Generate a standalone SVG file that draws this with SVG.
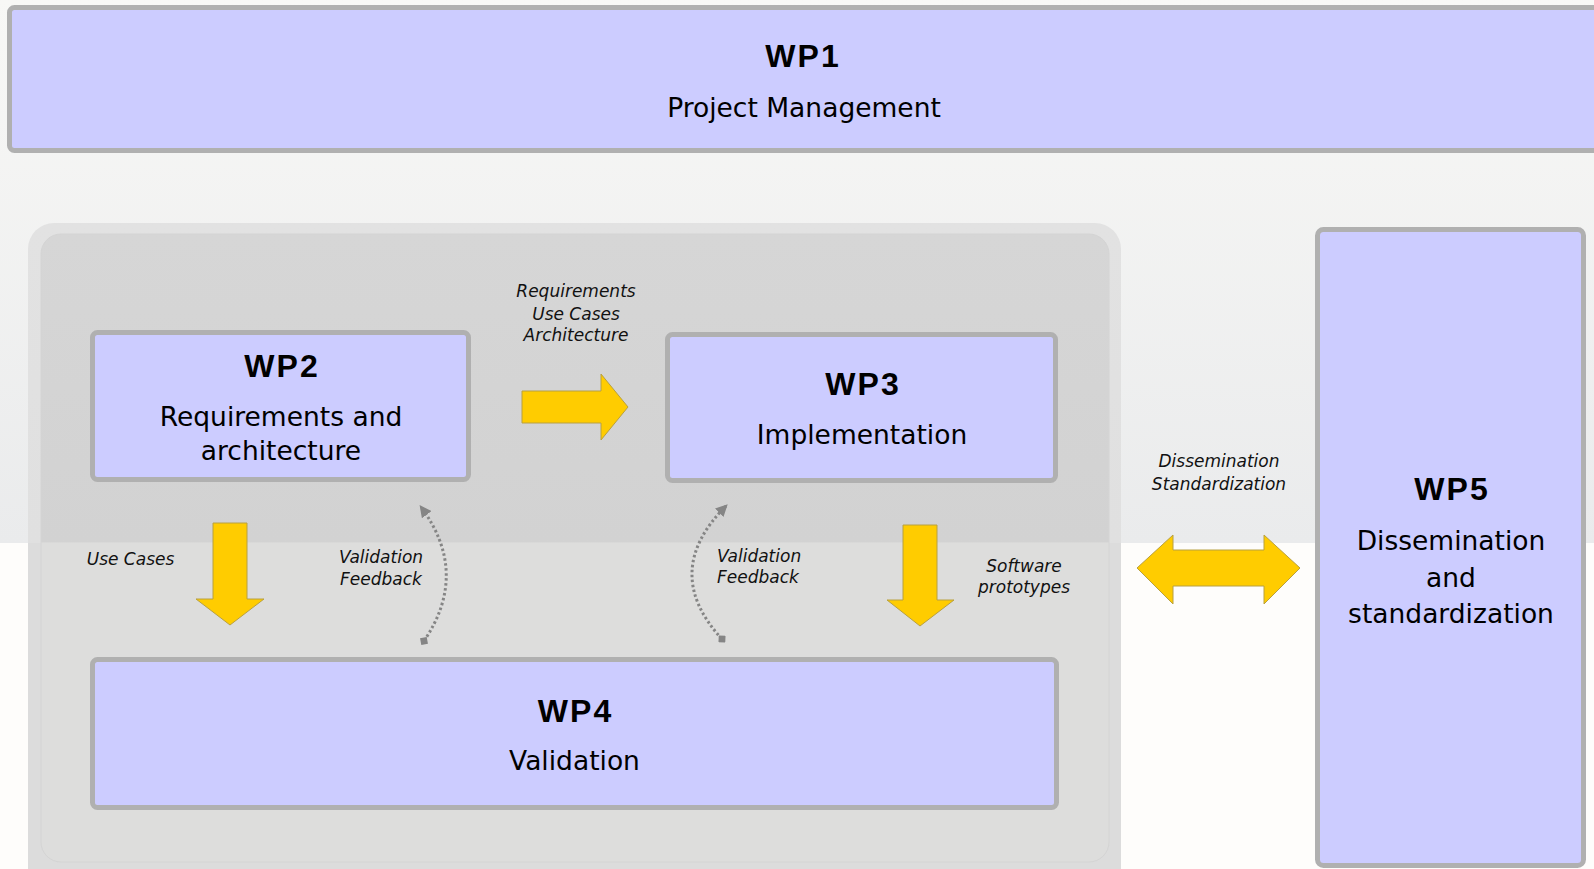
<svg xmlns="http://www.w3.org/2000/svg" width="1594" height="869" viewBox="0 0 1594 869">
  <defs>
    <style>
      .box { fill: #ccccff; stroke: #b0b0b0; stroke-width: 5; }
      .title { font-family: "Liberation Sans", Arial, sans-serif; font-weight: bold; font-size: 32px; letter-spacing: 2px; fill: #000; text-anchor: middle; }
      .sub { font-family: "DejaVu Sans", "Liberation Sans", sans-serif; font-size: 26.5px; fill: #000; text-anchor: middle; }
      .lbl { font-family: "DejaVu Sans", "Liberation Sans", sans-serif; font-style: italic; font-size: 17px; fill: #111; text-anchor: middle; }
      .yarrow { fill: #ffcc00; stroke: #b8a040; stroke-width: 1; stroke-linejoin: miter; }
      .dots { fill: none; stroke: #858585; stroke-width: 3; stroke-dasharray: 2.5 2.5; }
    </style>
    <linearGradient id="bgGrad" gradientUnits="userSpaceOnUse" x1="0" y1="0" x2="0" y2="869">
      <stop offset="0" stop-color="#f8f8f6"/>
      <stop offset="0.6248" stop-color="#eaebec"/>
      <stop offset="0.6249" stop-color="#fefdfb"/>
      <stop offset="1" stop-color="#fefdfb"/>
    </linearGradient>
    <linearGradient id="rimGrad" gradientUnits="userSpaceOnUse" x1="0" y1="223" x2="0" y2="870">
      <stop offset="0" stop-color="#e2e2e2"/>
      <stop offset="0.4944" stop-color="#e0e0e0"/>
      <stop offset="0.4946" stop-color="#dcdcdc"/>
      <stop offset="1" stop-color="#dcdcdc"/>
    </linearGradient>
    <linearGradient id="innerGrad" gradientUnits="userSpaceOnUse" x1="0" y1="234" x2="0" y2="862">
      <stop offset="0" stop-color="#d6d6d6"/>
      <stop offset="0.49" stop-color="#d2d2d2"/>
      <stop offset="0.4921" stop-color="#dddddc"/>
      <stop offset="1" stop-color="#dddddc"/>
    </linearGradient>
    <marker id="tri" viewBox="0 0 10 10" refX="8" refY="5" markerWidth="4" markerHeight="4" orient="auto" markerUnits="strokeWidth">
      <path d="M0,0 L10,5 L0,10 Z" fill="#858585"/>
    </marker>
    <marker id="dia" viewBox="0 0 10 10" refX="5" refY="5" markerWidth="3.2" markerHeight="3.2" orient="auto" markerUnits="strokeWidth">
      <path d="M5,0 L10,5 L5,10 L0,5 Z" fill="#858585"/>
    </marker>
  </defs>

  <rect x="0" y="0" width="1594" height="869" fill="url(#bgGrad)"/>

  <g id="container">
    <rect x="28" y="223" width="1093" height="680" rx="26" ry="26" fill="url(#rimGrad)"/>
    <rect x="41" y="234" width="1068" height="628" rx="20" ry="20" fill="url(#innerGrad)" stroke="#d4d4d4" stroke-width="1"/>
  </g>

  <g id="wp1">
    <rect class="box" x="9.5" y="7.5" width="1600" height="143" rx="5" ry="5"/>
    <text class="title" x="803" y="67">WP1</text>
    <text class="sub" x="804" y="117">Project Management</text>
  </g>

  <g id="wp2">
    <rect class="box" x="92.5" y="332.5" width="376" height="147" rx="5" ry="5"/>
    <text class="title" x="282" y="377">WP2</text>
    <text class="sub" x="281" y="426">Requirements and</text>
    <text class="sub" x="281" y="460">architecture</text>
  </g>

  <g id="wp3">
    <rect class="box" x="667.5" y="334.5" width="388" height="146" rx="5" ry="5"/>
    <text class="title" x="863" y="395">WP3</text>
    <text class="sub" x="862" y="444">Implementation</text>
  </g>

  <g id="wp4">
    <rect class="box" x="92.5" y="659.5" width="964" height="148" rx="5" ry="5"/>
    <text class="title" x="575.5" y="722">WP4</text>
    <text class="sub" x="574.5" y="770">Validation</text>
  </g>

  <g id="wp5">
    <rect class="box" x="1317.5" y="229.5" width="266" height="636" rx="6" ry="6"/>
    <text class="title" x="1452" y="500">WP5</text>
    <text class="sub" x="1451" y="550">Dissemination</text>
    <text class="sub" x="1451" y="587">and</text>
    <text class="sub" x="1451" y="623">standardization</text>
  </g>

  <g id="connectors">
    <path class="yarrow" d="M522,391 L601,391 L601,374 L628,407 L601,440 L601,423 L522,423 Z"/>
    <path class="yarrow" d="M213,523 L247,523 L247,599 L264,599 L230,625 L196,599 L213,599 Z"/>
    <path class="yarrow" d="M903,525 L937,525 L937,600 L954,600 L920,626 L887,600 L903,600 Z"/>
    <path class="yarrow" d="M1137,568 L1173,535 L1173,550 L1264,550 L1264,535 L1300,568 L1264,604 L1264,586 L1173,586 L1173,604 Z"/>
    <path class="dots" d="M424,641 Q470,573 421,507" marker-start="url(#dia)" marker-end="url(#tri)"/>
    <path class="dots" d="M722,639 Q660,572 726,506" marker-start="url(#dia)" marker-end="url(#tri)"/>
  </g>

  <g id="labels">
    <text class="lbl" x="576" y="297">Requirements</text>
    <text class="lbl" x="576" y="320">Use Cases</text>
    <text class="lbl" x="576" y="341">Architecture</text>
    <text class="lbl" x="130.5" y="565">Use Cases</text>
    <text class="lbl" x="381" y="563">Validation</text>
    <text class="lbl" x="381" y="585">Feedback</text>
    <text class="lbl" x="717" y="562" style="text-anchor:start">Validation</text>
    <text class="lbl" x="717" y="583" style="text-anchor:start">Feedback</text>
    <text class="lbl" x="1024" y="572">Software</text>
    <text class="lbl" x="1024" y="593">prototypes</text>
    <text class="lbl" x="1219" y="467">Dissemination</text>
    <text class="lbl" x="1219" y="490">Standardization</text>
  </g>
</svg>
